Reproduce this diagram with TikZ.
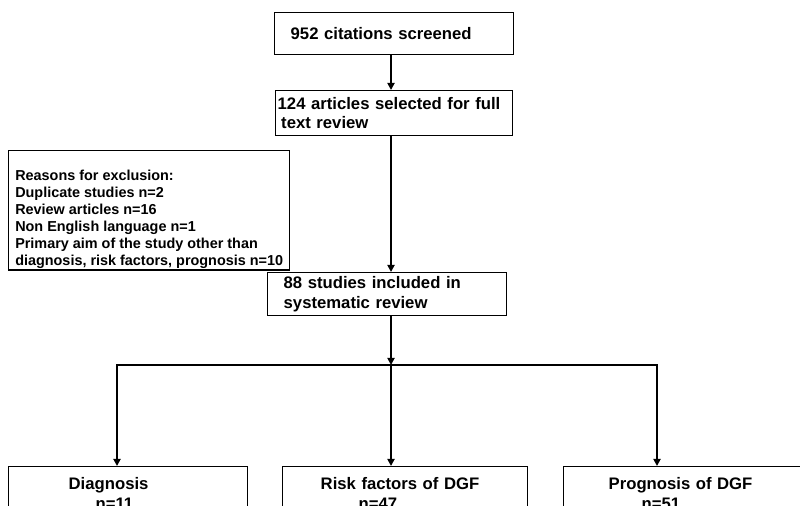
\documentclass[tikz,border=0pt]{standalone}
\usepackage{fontspec}
\setmainfont{Liberation Sans}
\usetikzlibrary{arrows.meta}

\begin{document}
\begin{tikzpicture}[x=0.02cm,y=-0.02cm,
  box/.style={draw,line width=0.8pt,anchor=north west,inner ysep=0pt,align=left,
    font=\bfseries\fontsize{9.5}{11}\selectfont},
  link/.style={line width=1pt,-{Triangle[length=4pt,width=4pt]}}]
\path[use as bounding box,clip] (0,0) rectangle (800,506);

\node[box,minimum height=0.84cm,inner xsep=0.32cm,text width=4.14cm] (cit) at (274,12) {952 citations screened};
\node[box,minimum height=0.9cm,inner xsep=0.04cm,text width=4.66cm] (sel) at (275,90) {124 articles selected for full\\\hspace*{2pt}text review};
\node[box,minimum width=5.62cm,inner xsep=0pt,inner ysep=0.02cm,font=\bfseries\fontsize{8.2}{9.7}\selectfont] (excl) at (8,150)
  {\rule{0pt}{0.58cm}Reasons for exclusion:\\Duplicate studies n=2\\Review articles n=16\\Non English language n=1\\Primary aim of the study other than\\diagnosis, risk factors, prognosis n=10};
\node[box,minimum height=0.86cm,inner xsep=0.32cm,text width=4.14cm] (incl) at (267,272) {88 studies included in\\systematic review};

% the three groups
\node[box,inner ysep=0.22cm,inner xsep=1.2cm,text width=2.38cm] (diag) at (8,466) {Diagnosis\\\hspace*{0.54cm}n=11};
\node[box,inner ysep=0.22cm,inner xsep=0.76cm,text width=3.38cm] (risk) at (282,466) {Risk factors of DGF\\\hspace*{0.76cm}n=47};
\node[box,inner ysep=0.22cm,inner xsep=0.9cm,text width=3.04cm] (prog) at (563,466) {Prognosis of DGF\\\hspace*{0.66cm}n=51};

\coordinate (split) at (391,365);
\coordinate (bl) at (117,365);
\coordinate (br) at (657,365);

\draw[link,line width=1.6pt] (split |- cit.south) -- (split |- sel.north);
\draw[link] (split |- sel.south) -- (split |- incl.north);
\draw[link] (split |- incl.south) -- (split);
\draw[line width=1pt,line cap=rect] (bl) -- (br);
\draw[link] (bl) -- (bl |- diag.north);
\draw[link] (split) -- (split |- risk.north);
\draw[link] (br) -- (br |- prog.north);

\end{tikzpicture}
\end{document}
